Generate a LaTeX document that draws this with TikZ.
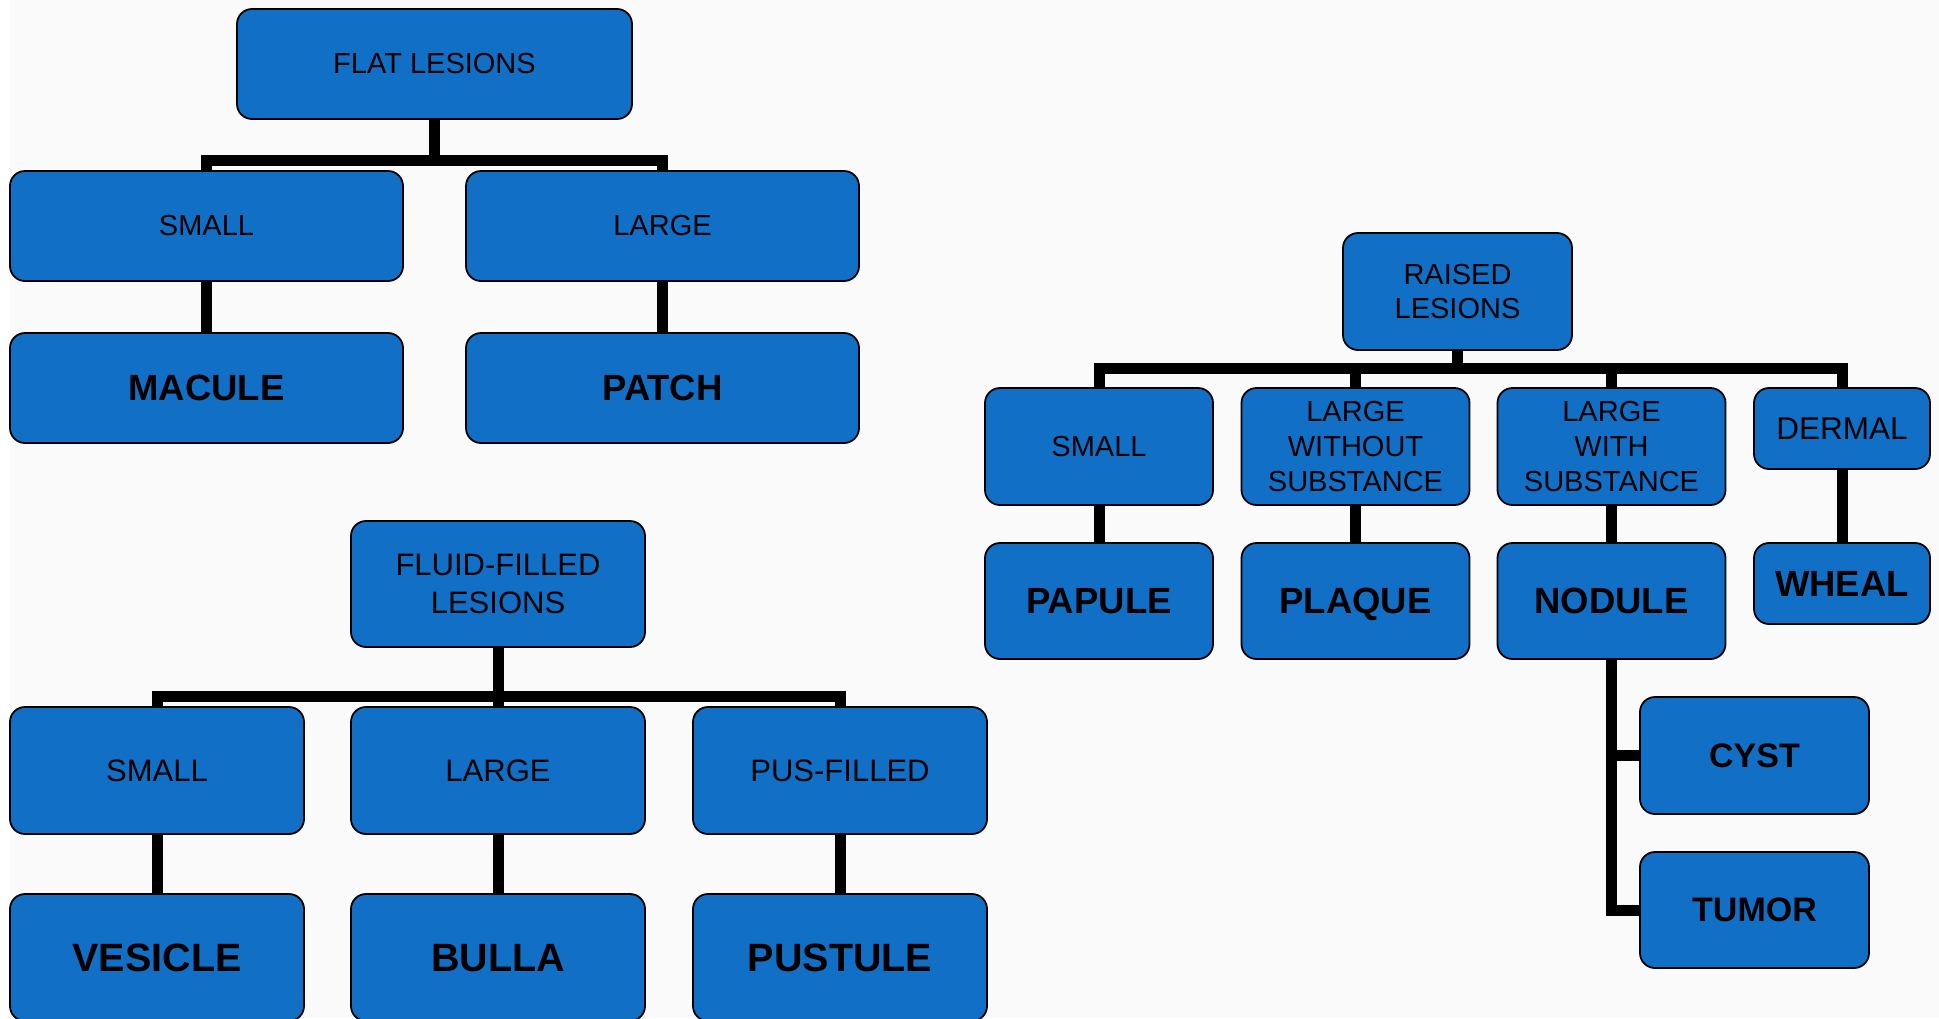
\documentclass[tikz,border=0pt]{standalone}
\usepackage{fontspec}
\setmainfont{Liberation Sans}
\usetikzlibrary{backgrounds}
\definecolor{boxblue}{RGB}{17,112,198}
\definecolor{slidebg}{RGB}{250,250,250}
\tikzset{
  lesion/.style={draw=black, line width=1.8pt, fill=boxblue, rounded corners=15pt,
                 inner sep=0pt, align=center, text=black},
  flatbox/.style={lesion, minimum width=393pt, minimum height=110pt},
  fluidbox/.style={lesion, minimum width=294pt, minimum height=127pt},
  raisedbox/.style={lesion, minimum width=228pt, minimum height=117pt},
  dermbox/.style={lesion, minimum width=176pt, minimum height=81pt},
  conn/.style={draw=black, line width=11pt, line join=miter},
  fa/.style={font=\fontsize{29}{34.8}\selectfont},
  fb/.style={font=\fontsize{31}{37.2}\selectfont},
  fc/.style={font=\fontsize{31.5}{37.8}\selectfont},
  ba/.style={font=\fontsize{36.5}{43.8}\selectfont\bfseries, text depth=0pt},
  bb/.style={font=\fontsize{39.5}{47.4}\selectfont\bfseries, text depth=0pt},
  bc/.style={font=\fontsize{34}{40.8}\selectfont\bfseries, text depth=0pt},
}
\begin{document}
\begin{tikzpicture}[x=1pt,y=-1pt]
\useasboundingbox (0,0) rectangle (1939,1018);
\clip (0,0) rectangle (1939,1018);

% ---------- flat lesions ----------
\node[flatbox, minimum width=395pt, fa] (flat) at (434.5,64) {FLAT LESIONS};
\node[flatbox, fa] (fsmall) at (206.5,226) {SMALL};
\node[flatbox, fa] (flarge) at (662.5,226) {LARGE};
\node[flatbox, ba] (macule) at (206.5,388) {MACULE};
\node[flatbox, ba] (patch)  at (662.5,388) {PATCH};
\coordinate (flatbar) at (0,160.5);

% ---------- fluid-filled lesions ----------
\node[fluidbox, minimum height=126pt, fb] (fluid) at (498,584) {FLUID-FILLED\\LESIONS};
\node[fluidbox, fb] (vsmall) at (157,770.5) {SMALL};
\node[fluidbox, fb] (vlarge) at (498,770.5) {LARGE};
\node[fluidbox, fb] (pus)    at (840,770.5) {PUS-FILLED};
\node[fluidbox, bb] (vesicle) at (157,957.5) {VESICLE};
\node[fluidbox, bb] (bulla)   at (498,957.5) {BULLA};
\node[fluidbox, bb] (pustule) at (840,957.5) {PUSTULE};
\coordinate (fluidbar) at (0,696);

% ---------- raised lesions ----------
\node[raisedbox, minimum width=229pt, fa] (raised) at (1457.5,291.5) {RAISED\\LESIONS};
\node[raisedbox, fa] (rsmall) at (1099,446.5) {SMALL};
\node[raisedbox, fa] (rwo)    at (1355.5,446.5) {LARGE\\WITHOUT\\SUBSTANCE};
\node[raisedbox, fa] (rwith)  at (1611.5,446.5) {LARGE\\WITH\\SUBSTANCE};
\node[dermbox, fc]   (dermal) at (1842,428.5) {DERMAL};
\node[raisedbox, minimum height=116pt, ba] (papule) at (1099,601) {PAPULE};
\node[raisedbox, minimum height=116pt, ba] (plaque) at (1355.5,601) {PLAQUE};
\node[raisedbox, minimum height=116pt, ba] (nodule) at (1611.5,601) {NODULE};
\node[dermbox, ba]   (wheal)  at (1842,583.5) {WHEAL};
\node[raisedbox, minimum width=229pt, bc] (cyst)  at (1754.5,755.5) {CYST};
\node[raisedbox, minimum width=229pt, minimum height=116pt, bc] (tumor) at (1754.5,910) {TUMOR};
\coordinate (raisedbar) at (0,368.5);

\begin{scope}[on background layer]
  \fill[slidebg] (10,0) rectangle (1939,1018);
  % flat tree
  \foreach \c in {fsmall,flarge}
    \draw[conn] (flat.south) -- (flat.south |- flatbar) -| (\c.north);
  \draw[conn] (fsmall.south) -- (macule.north);
  \draw[conn] (flarge.south) -- (patch.north);
  % fluid tree
  \foreach \c in {vsmall,vlarge,pus}
    \draw[conn] (fluid.south) -- (fluid.south |- fluidbar) -| (\c.north);
  \draw[conn] (vsmall.south) -- (vesicle.north);
  \draw[conn] (vlarge.south) -- (bulla.north);
  \draw[conn] (pus.south) -- (pustule.north);
  % raised tree
  \foreach \c in {rsmall,rwo,rwith,dermal}
    \draw[conn] (raised.south) -- (raised.south |- raisedbar) -| (\c.north);
  \draw[conn] (rsmall.south) -- (papule.north);
  \draw[conn] (rwo.south) -- (plaque.north);
  \draw[conn] (rwith.south) -- (nodule.north);
  \draw[conn] (dermal.south) -- (wheal.north);
  \draw[conn] (nodule.south) |- (cyst.west);
  \draw[conn] (nodule.south) |- (tumor.west);
\end{scope}
\end{tikzpicture}
\end{document}
